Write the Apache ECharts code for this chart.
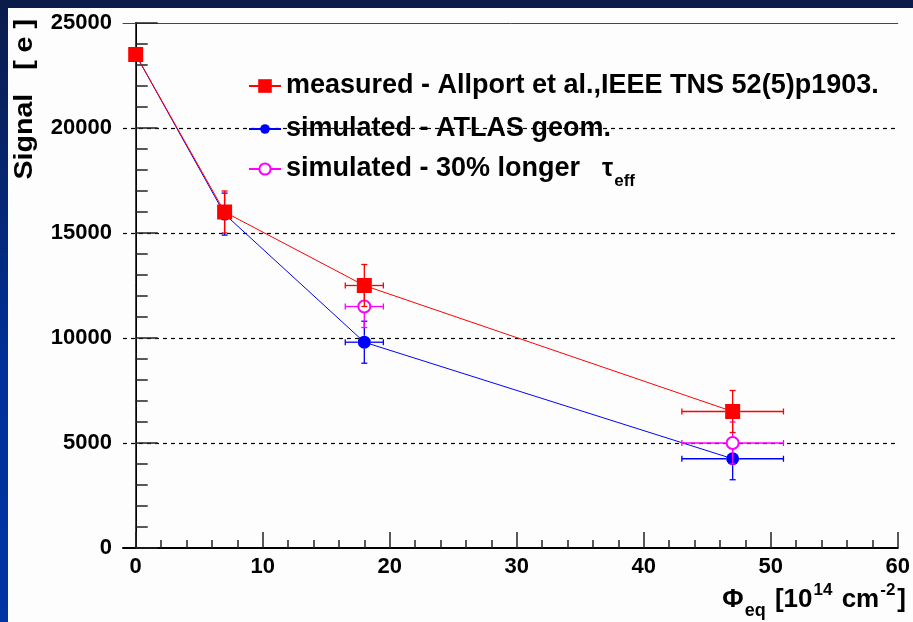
<!DOCTYPE html>
<html>
<head>
<meta charset="utf-8">
<script src="https://cdn.jsdelivr.net/npm/echarts@6/dist/echarts.min.js"></script>
<style>
  html, body { margin: 0; padding: 0; width: 913px; height: 622px; overflow: hidden;
    background: linear-gradient(to bottom, #0b1c4a 0%, #00309a 60%, #0035a3 100%); }
  #panel { position: absolute; left: 8px; top: 8px; right: 0; bottom: 0; background: #fdfdfd; }
  #chart { position: absolute; left: 0; top: 0; width: 913px; height: 622px; }
</style>
</head>
<body>
<div id="panel"></div>
<div id="chart"></div>
<script>
// Signal vs. equivalent fluence (10^14 cm^-2)
const measuredFluence    = [0, 7, 18, 47];
const measuredSignal     = [23500, 16000, 12500, 6500];
const measuredFluenceErr = [0, 0, 1.5, 4];
const measuredSignalErr  = [0, 1000, 1000, 1000];

const atlasFluence    = [0, 7, 18, 47];
const atlasSignal     = [23500, 15900, 9800, 4250];
const atlasFluenceErr = [0, 0, 1.5, 4];
const atlasSignalErr  = [0, 1000, 1000, 1000];

const longerFluence    = [18, 47];
const longerSignal     = [11500, 5000];
const longerFluenceErr = [1.5, 4];
const longerSignalErr  = [1000, 1000];

const xMajorTicks = [0, 10, 20, 30, 40, 50, 60];
const yMajorTicks = [0, 5000, 10000, 15000, 20000, 25000];

const NAME_MEAS = 'measured - Allport et al.,IEEE TNS 52(5)p1903.';
const NAME_ATLAS = 'simulated - ATLAS geom.';
const NAME_LONG = 'simulated - 30% longer';

const FONT = '"Liberation Sans", Arial, Helvetica, sans-serif';

// minor ticks every 2 units between the labelled ones
const xMinorTicks = [];
for (let i = 0; i < xMajorTicks.length - 1; i++) {
  const step = (xMajorTicks[i + 1] - xMajorTicks[i]) / 5;
  for (let k = 1; k < 5; k++) xMinorTicks.push(xMajorTicks[i] + k * step);
}

function zip(xs, ys) { return xs.map((x, i) => [x, ys[i]]); }
function zipErr(xs, ys, xe, ye) { return xs.map((x, i) => [x, ys[i], xe[i], ye[i]]); }

// error bars with end caps; the segments stop at the marker edge
function errorBars(color, gap) {
  return function (params, api) {
    const x = api.value(0), y = api.value(1), xe = api.value(2), ye = api.value(3);
    const c = api.coord([x, y]);
    const st = { stroke: color, lineWidth: 1.3 };
    const cap = 3;
    const seg = (x1, y1, x2, y2) => ({ type: 'line', shape: { x1, y1, x2, y2 }, style: st });
    const ch = [];
    if (ye > 0) {
      const top = api.coord([x, y + ye])[1];
      const bot = api.coord([x, y - ye])[1];
      ch.push(seg(c[0], top, c[0], c[1] - gap), seg(c[0], c[1] + gap, c[0], bot),
              seg(c[0] - cap, top, c[0] + cap, top), seg(c[0] - cap, bot, c[0] + cap, bot));
    }
    if (xe > 0) {
      const l = api.coord([x - xe, y])[0];
      const r = api.coord([x + xe, y])[0];
      ch.push(seg(l, c[1], c[0] - gap, c[1]), seg(c[0] + gap, c[1], r, c[1]),
              seg(l, c[1] - cap, l, c[1] + cap), seg(r, c[1] - cap, r, c[1] + cap));
    }
    return { type: 'group', children: ch };
  };
}

const legendText = { fontSize: 27, fontWeight: 'bold', fontFamily: FONT, color: '#000', lineHeight: 30,
  rich: {
    a: { fontSize: 27, fontWeight: 'bold', fontFamily: FONT, color: '#000' },
    t: { fontSize: 25, fontWeight: 'bold', fontFamily: FONT, color: '#000', padding: [0, 0, 0, 22] },
    s: { fontSize: 17, fontWeight: 'bold', fontFamily: FONT, color: '#000', padding: [24, 0, 0, 1] }
  } };

function legendFor(name, top, itemHeight, extra) {
  return {
    orient: 'vertical', left: 248, top: top, padding: 0,
    itemWidth: 32, itemHeight: itemHeight,
    textStyle: legendText,
    lineStyle: { width: 2 },
    data: [Object.assign({ name: name }, extra || {})],
    formatter: function (n) {
      return n === NAME_LONG ? '{a|' + n + '}{t|τ}{s|eff}' : n;
    }
  };
}

const chart = echarts.init(document.getElementById('chart'), null, { renderer: 'canvas' });
chart.setOption({
  animation: false,
  backgroundColor: 'transparent',
  grid: { left: 123, right: 11, top: 23, bottom: 74 },
  xAxis: [
    { type: 'value', min: -1, max: 60, position: 'bottom',
      axisLine: { lineStyle: { color: '#000', width: 2 } },
      axisTick: { inside: true, length: 16, customValues: xMajorTicks, lineStyle: { color: '#222', width: 1.5 } },
      axisLabel: { customValues: xMajorTicks, fontSize: 22, fontWeight: 'bold', fontFamily: FONT, color: '#000', margin: 8,
        formatter: v => String(v) },
      splitLine: { show: false } },
    { type: 'value', min: -1, max: 60, position: 'bottom',
      axisLine: { show: false },
      axisTick: { inside: true, length: 8, customValues: xMinorTicks, lineStyle: { color: '#222', width: 1.5 } },
      axisLabel: { show: false }, splitLine: { show: false } },
    { type: 'value', min: -1, max: 60, position: 'top',
      axisLine: { lineStyle: { color: '#444', width: 1 } },
      axisTick: { show: false }, axisLabel: { show: false }, splitLine: { show: false } }
  ],
  yAxis: [
    { type: 'value', min: 0, max: 25000, interval: 5000, position: 'left',
      axisLine: { show: true, lineStyle: { color: '#000', width: 2 } },
      axisTick: { show: true, inside: true, length: 22, lineStyle: { color: '#222', width: 1.5 } },
      minorTick: { show: true, splitNumber: 5, length: 12, lineStyle: { color: '#222', width: 1.5 } },
      axisLabel: { fontSize: 22, fontWeight: 'bold', fontFamily: FONT, color: '#000', margin: 11,
        customValues: yMajorTicks, formatter: v => String(v) },
      splitLine: { show: true, showMinLine: false, showMaxLine: false,
        lineStyle: { color: '#000', width: 1.2, type: [4, 4] } } },
    { type: 'value', min: 0, max: 25000, position: 'right',
      axisLine: { show: true, lineStyle: { color: '#444', width: 1 } },
      axisTick: { show: false }, axisLabel: { show: false }, splitLine: { show: false } }
  ],
  legend: [
    legendFor(NAME_MEAS, 71, 17),
    legendFor(NAME_ATLAS, 114, 12),
    legendFor(NAME_LONG, 154, 14, { lineStyle: { opacity: 1, width: 2, color: '#ff00ff' } })
  ],
  series: [
    { type: 'custom', name: 'atlas-err', z: 3, xAxisIndex: 0, yAxisIndex: 0,
      renderItem: errorBars('#0000ff', 6.5), encode: { x: 0, y: 1 },
      data: zipErr(atlasFluence, atlasSignal, atlasFluenceErr, atlasSignalErr), silent: true },
    { type: 'line', name: NAME_ATLAS, z: 4, xAxisIndex: 0, yAxisIndex: 0,
      data: zip(atlasFluence, atlasSignal),
      symbol: 'circle', symbolSize: 13,
      itemStyle: { color: '#0000ff' }, lineStyle: { color: '#0000ff', width: 1 } },
    { type: 'custom', name: 'longer-err', z: 5, xAxisIndex: 0, yAxisIndex: 0,
      renderItem: errorBars('#ff00ff', 6), encode: { x: 0, y: 1 },
      data: zipErr(longerFluence, longerSignal, longerFluenceErr, longerSignalErr), silent: true },
    { type: 'line', name: NAME_LONG, z: 6, xAxisIndex: 0, yAxisIndex: 0,
      data: zip(longerFluence, longerSignal),
      symbol: 'emptyCircle', symbolSize: 12,
      itemStyle: { color: '#ff00ff', borderColor: '#ff00ff', borderWidth: 1.3 },
      lineStyle: { color: '#ff00ff', width: 1, opacity: 0 } },
    { type: 'custom', name: 'meas-err', z: 7, xAxisIndex: 0, yAxisIndex: 0,
      renderItem: errorBars('#ff0000', 7.5), encode: { x: 0, y: 1 },
      data: zipErr(measuredFluence, measuredSignal, measuredFluenceErr, measuredSignalErr), silent: true },
    { type: 'line', name: NAME_MEAS, z: 8, xAxisIndex: 0, yAxisIndex: 0,
      data: zip(measuredFluence, measuredSignal),
      symbol: 'rect', symbolSize: 15,
      itemStyle: { color: '#ff0000' }, lineStyle: { color: '#ff0000', width: 1 } }
  ],
  graphic: [
    { type: 'text', x: 25, y: 19, rotation: Math.PI / 2, scaleX: 1.1, silent: true,
      style: { text: 'Signal   [ e ]', font: 'bold 26px ' + FONT, fill: '#000',
        align: 'right', verticalAlign: 'middle', textAlign: 'right', textVerticalAlign: 'middle' } },
    { type: 'text', x: 906, y: 600, silent: true,
      style: {
        text: '{a|Φ}{b|eq}{a| [10}{c|14}{a| cm}{c|-2}{a|]}',
        align: 'right', verticalAlign: 'middle', textAlign: 'right', textVerticalAlign: 'middle',
        rich: {
          a: { font: 'bold 26px ' + FONT, fill: '#000' },
          b: { font: 'bold 18px ' + FONT, fill: '#000', padding: [22, 2, 0, 1] },
          c: { font: 'bold 17px ' + FONT, fill: '#000', padding: [0, 2, 20, 1] }
        }
      } }
  ]
});
</script>
</body>
</html>
